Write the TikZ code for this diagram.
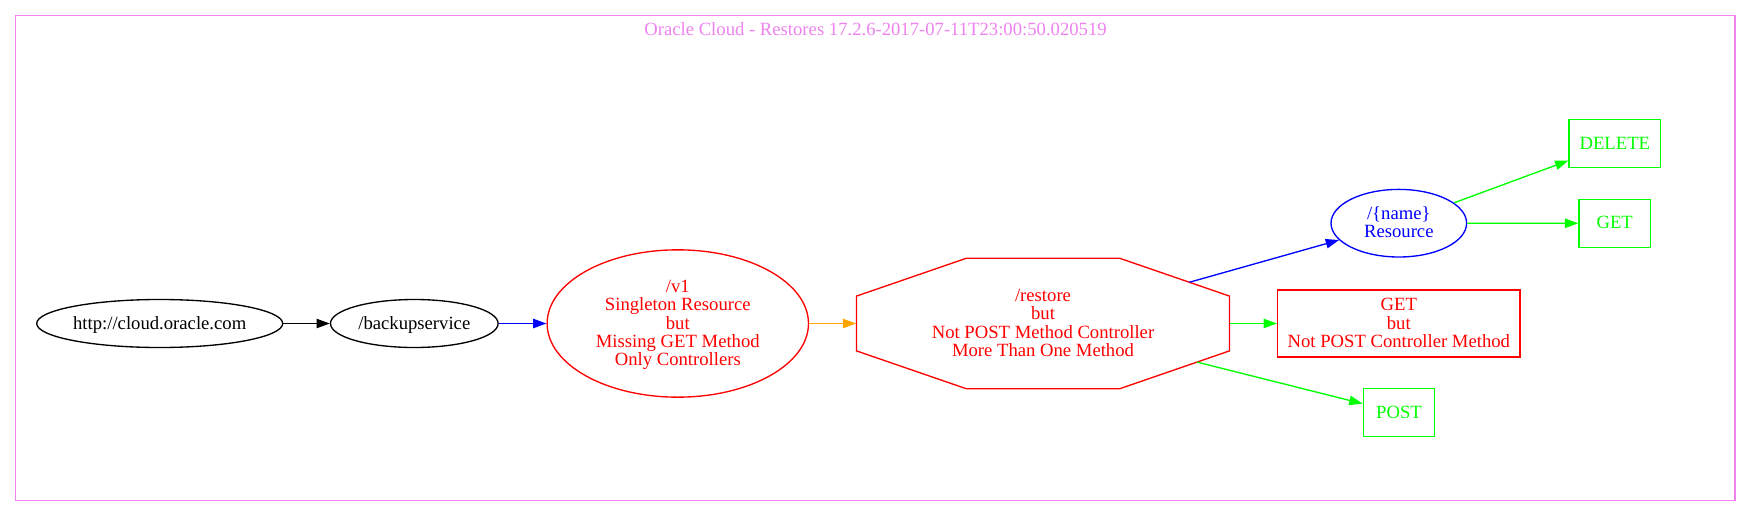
\documentclass[tikz,border=0pt]{standalone}
\usepackage{fontspec}
\setmainfont{Liberation Serif}
\usetikzlibrary{shapes,arrows.meta,calc}

\definecolor{gvviolet}{HTML}{EE82EE}
\definecolor{gvgreen}{HTML}{00FF00}
\definecolor{gvorange}{HTML}{FFA500}

\tikzset{
  every node/.style={font=\fontsize{14}{13.75}\selectfont,inner sep=0pt,align=center,
    text height=11.05pt,text depth=2.7pt},
  lines/.style={text height=#1*13.75pt-2.7pt},
  oval/.style={ellipse,draw,line width=1pt},
  box/.style={rectangle,draw,line width=1pt},
  link/.style={->,draw,line width=1pt},
  >={Triangle[length=10pt,width=7pt]}
}

\begin{document}
\begin{tikzpicture}[x=0.75pt,y=-0.75pt]
			\useasboundingbox (0,0) rectangle (1751,517);
			\draw[gvviolet,line width=1pt] (15.5,15.5) rectangle (1735,500.5);
			\node[text=gvviolet] (title) at (875.5,30.1) {Oracle Cloud - Restores 17.2.6-2017-07-11T23:00:50.020519};

			\node[oval,minimum width=184.5pt,minimum height=36pt] (root) at (159.7,323.5) {http://cloud.oracle.com};
			\node[oval,minimum width=125.7pt,minimum height=36pt] (backup) at (414.3,323.5) {/backupservice};
			\node[oval,red,lines=5,minimum width=196pt,minimum height=110.5pt] (v1) at (677.8,323.5) {/v1\\Singleton Resource\\but\\Missing GET Method\\Only Controllers};
			\node[red,lines=4,minimum width=279.75pt,minimum height=98pt] (restore) at (1043,323.5) {/restore\\but\\Not POST Method Controller\\More Than One Method};
			\path (restore.center) +(-76.5,-65.3) coordinate (o1) +(76.5,-65.3) coordinate (o2)
				+(186.5,-27.4) coordinate (o3) +(186.5,27.4) coordinate (o4)
				+(76.5,65.3) coordinate (o5) +(-76.5,65.3) coordinate (o6)
				+(-186.5,27.4) coordinate (o7) +(-186.5,-27.4) coordinate (o8);
			\draw[red,line width=1pt] (o1) -- (o2) -- (o3) -- (o4) -- (o5) -- (o6) -- (o7) -- (o8) -- cycle;
			\coordinate (toname) at ($(o2)!0.635!(o3)$);
			\coordinate (topost) at ($(o5)!0.705!(o4)$);

			\node[oval,blue,lines=2,minimum width=101.7pt,minimum height=50.7pt] (name) at (1398.8,223.2) {/\{name\}\\Resource};
			\node[box,red,lines=3,minimum width=181.7pt,minimum height=50.25pt] (getbut) at (1398.8,323.5) {GET\\but\\Not POST Controller Method};
			\node[box,gvgreen,minimum width=68.6pt,minimum height=36pt] (delete) at (1614.8,143.5) {DELETE};
			\node[box,gvgreen,minimum width=53.6pt,minimum height=36pt] (get) at (1614.7,223.3) {GET};
			\node[box,gvgreen,minimum width=53.6pt,minimum height=36pt] (post) at (1399,412.8) {POST};

			\path[link] (root) -- (backup);
			\path[link,blue] (backup) -- (v1);
			\path[link,gvorange] (v1) -- (restore);
			\path[link,blue] (toname) -- (name);
			\path[link,gvgreen] (restore) -- (getbut);
			\path[link,gvgreen] (topost) -- (post);
			\path[link,gvgreen] (name) -- (delete);
			\path[link,gvgreen] (name) -- (get);
		\end{tikzpicture}
\end{document}
